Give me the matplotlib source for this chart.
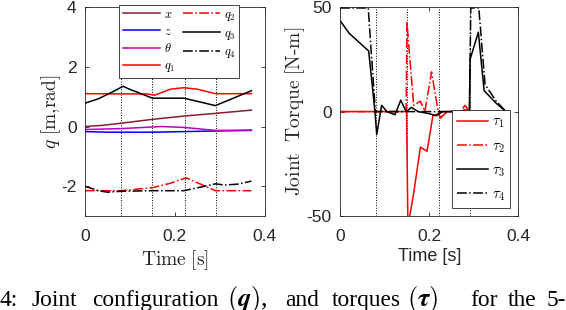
import matplotlib
matplotlib.use('Agg')
import matplotlib.pyplot as plt

plt.rcParams['mathtext.fontset'] = 'cm'
plt.rcParams['font.family'] = ['Liberation Sans', 'DejaVu Sans']

# --- left panel: joint configuration q ---
t_x = [0, 0.04, 0.08, 0.15, 0.22, 0.29, 0.37]
v_x = [0.0, 0.04, 0.11, 0.24, 0.35, 0.44, 0.55]
t_z = [0, 0.05, 0.15, 0.22, 0.29, 0.37]
v_z = [-0.17, -0.19, -0.19, -0.17, -0.15, -0.13]
t_th = [0, 0.08, 0.17, 0.22, 0.29, 0.37]
v_th = [-0.1, -0.07, 0.0, -0.03, -0.13, -0.12]
t_q1 = [0, 0.14, 0.155, 0.19, 0.22, 0.25, 0.29, 0.37]
v_q1 = [1.1, 1.09, 1.05, 1.25, 1.3, 1.25, 1.1, 1.1]
t_q2 = [0, 0.08, 0.15, 0.19, 0.225, 0.26, 0.29, 0.37]
v_q2 = [-2.15, -2.15, -2.05, -1.9, -1.72, -1.95, -2.15, -2.15]
t_q3 = [0, 0.03, 0.06, 0.085, 0.096, 0.15, 0.22, 0.29, 0.37]
v_q3 = [0.78, 0.93, 1.15, 1.35, 1.27, 0.95, 0.95, 0.7, 1.2]
t_q4 = [0, 0.03, 0.05, 0.08, 0.15, 0.22, 0.26, 0.29, 0.31, 0.34, 0.37]
v_q4 = [-2.0, -2.15, -2.2, -2.17, -2.15, -2.15, -2.02, -1.92, -1.96, -1.93, -1.83]

# --- right panel: joint torques ---
t_tau1 = [0, 0.149, 0.152, 0.165, 0.18, 0.195, 0.208, 0.22, 0.225, 0.24, 0.27, 0.28, 0.29, 0.37]
v_tau1 = [0, 0, -55, -39, -17, -19, -2, -1, -3, 0, 0, 1, 0, 0]
t_tau2 = [0, 0.148, 0.15, 0.153, 0.165, 0.18, 0.19, 0.205, 0.22, 0.225, 0.24, 0.27, 0.28, 0.29, 0.37]
v_tau2 = [0, 0, 43, 34, 3, 5, 0, 19, 0, -3, 0, 0, 3, 0, 0]
t_tau3 = [0, 0.02, 0.064, 0.078, 0.082, 0.093, 0.105, 0.123, 0.136, 0.148, 0.16, 0.175,
          0.2, 0.215, 0.23, 0.25, 0.27, 0.29, 0.2915, 0.31, 0.323, 0.35, 0.372]
v_tau3 = [43.5, 37.5, 29, 0, -11, 3, 0, -1.5, 5.5, 0, 2, 0, -1, -2, 0, 0, 0, 0, 25, 38, 10, 4, 0]
t_tau4 = [0, 0.063, 0.066, 0.079, 0.09, 0.29, 0.293, 0.311, 0.325, 0.35, 0.372]
v_tau4 = [49.6, 49.6, 40, 0, 0, 0, 49.6, 49.6, 13, 5, 0]

events = [0.081, 0.15, 0.222, 0.292]

# caption words and their left edges (pixels)
cap_words = ['4:', 'Joint', 'configuration', r'$(\boldsymbol{q})$,', 'and', 'torques',
             r'$(\boldsymbol{\tau})$', 'for', 'the', '5-']
cap_x = [-1, 32, 92, 227, 285, 332, 407, 470, 508, 547]
cap_size = [16.8, 16.8, 16.8, 19, 16.8, 16.8, 19, 16.8, 16.8, 16.8]

dark = '#262626'
darkred = '#8c1a2e'

fig = plt.figure(figsize=(5.66, 3.10), dpi=100)
ax1 = fig.add_axes([0.150, 0.303, 0.318, 0.674])
ax2 = fig.add_axes([0.601, 0.303, 0.315, 0.674])

lw = 1.1
for t in events:
    ax1.axvline(t, color='k', ls=':', lw=0.7)
    ax2.axvline(t, color='k', ls=':', lw=0.7)

ax1.plot(t_x, v_x, color=darkred, lw=lw, label='$x$')
ax1.plot(t_z, v_z, color='b', lw=lw, label='$z$')
ax1.plot(t_th, v_th, color='m', lw=lw, label=r'$\theta$')
ax1.plot(t_q1, v_q1, color='r', lw=lw, label='$q_1$')
ax1.plot(t_q2, v_q2, color='r', ls='-.', lw=lw, label='$q_2$')
ax1.plot(t_q3, v_q3, color='k', lw=lw, label='$q_3$')
ax1.plot(t_q4, v_q4, color='k', ls='-.', lw=lw, label='$q_4$')

ax2.plot(t_tau1, v_tau1, color='r', lw=lw, label=r'$\tau_1$')
ax2.plot(t_tau2, v_tau2, color='r', ls='-.', lw=lw, label=r'$\tau_2$')
ax2.plot(t_tau3, v_tau3, color='k', lw=lw, label=r'$\tau_3$')
ax2.plot(t_tau4, v_tau4, color='k', ls='-.', lw=lw, label=r'$\tau_4$')

ax1.set_xlim(0, 0.4)
ax1.set_ylim(-3, 4)
ax1.set_xticks([0, 0.2, 0.4])
ax1.set_xticklabels(['0', '0.2', '0.4'])
ax1.set_yticks([-2, 0, 2, 4])
ax1.set_yticklabels(['-2', '0', '2', '4'])
ax1.set_xlabel(r'$\mathrm{Time\ [s]}$', fontsize=14, color=dark, labelpad=3)
ax1.set_ylabel(r'$q\ \mathrm{[m{,}rad]}$', fontsize=14, color=dark, labelpad=-1)

ax2.set_xlim(0, 0.4)
ax2.set_ylim(-50, 50)
ax2.set_xticks([0, 0.2, 0.4])
ax2.set_xticklabels(['0', '0.2', '0.4'])
ax2.set_yticks([-50, 0, 50])
ax2.set_yticklabels(['-50', '0', '50'])
ax2.set_xlabel('Time [s]', fontsize=13, color=dark, labelpad=3)
ax2.set_ylabel(r'$\mathrm{Joint\ \ Torque\ [N\text{-}m]}$', fontsize=14, color=dark, labelpad=0)

for ax in (ax1, ax2):
    ax.tick_params(direction='in', length=3, width=0.6, top=True, right=True,
                   labelsize=12.5, colors=dark)
    ax.tick_params(axis='x', pad=9)
    ax.tick_params(axis='y', pad=6)
    for s in ax.spines.values():
        s.set_color(dark)
        s.set_linewidth(0.6)

leg1 = ax1.legend(ncol=2, loc='upper left', bbox_to_anchor=(0.19, 1.01), fontsize=9,
                  frameon=True, fancybox=False, edgecolor=dark, handlelength=3.0,
                  handletextpad=0.3, columnspacing=0.6, labelspacing=0.38,
                  borderpad=0.3, borderaxespad=0, framealpha=1)
leg1.get_frame().set_linewidth(0.6)
leg2 = ax2.legend(loc='lower right', bbox_to_anchor=(0.955, 0.038), fontsize=10.5,
                  frameon=True, fancybox=False, edgecolor=dark, handlelength=2.1,
                  handletextpad=0.3, labelspacing=0.6, borderpad=0.35, borderaxespad=0,
                  framealpha=1)
leg2.get_frame().set_linewidth(0.6)

for w, px, fs in zip(cap_words, cap_x, cap_size):
    fig.text(px / 566, 4 / 310, w, fontsize=fs, family='Liberation Serif',
             color='k', ha='left', va='baseline')

fig.savefig('out.png', dpi=100)
